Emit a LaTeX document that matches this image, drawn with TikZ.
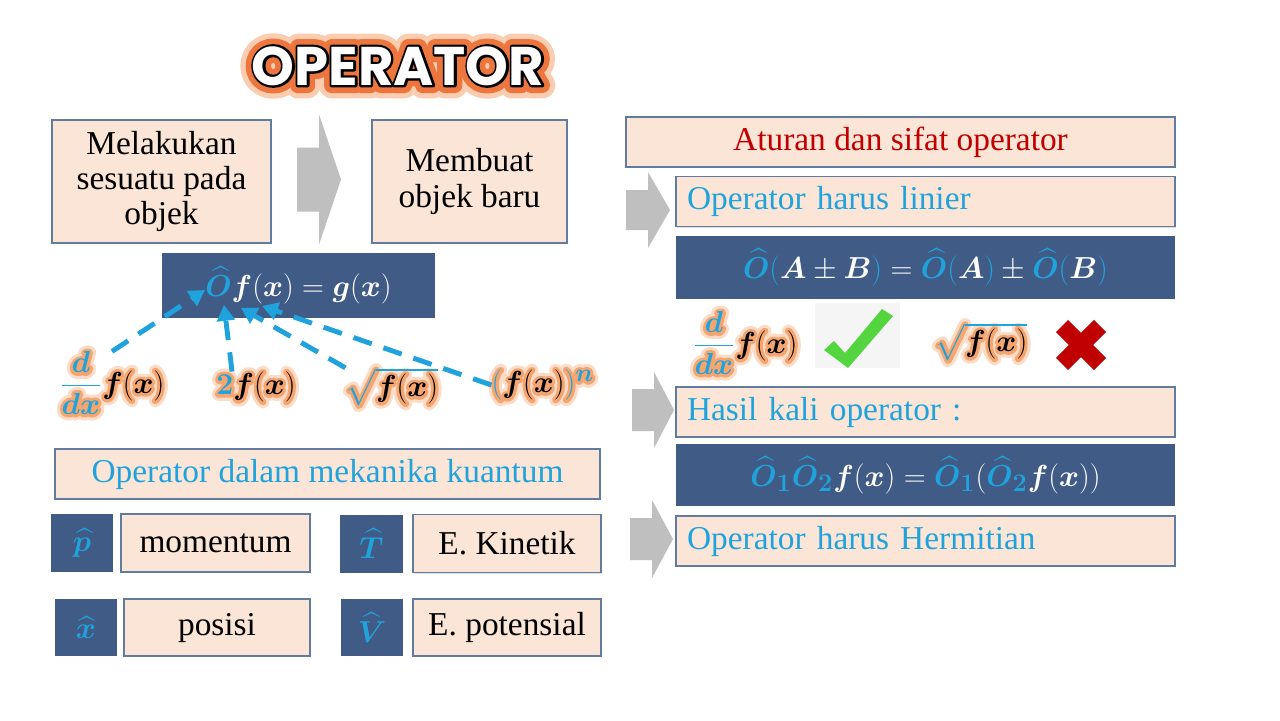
\documentclass[tikz,border=0pt]{standalone}
\usepackage{fontspec}
\setmainfont{Liberation Serif}
\newfontfamily\titlefont{Poppins}
\usepackage{amsmath}
\usepackage{bm}
\usetikzlibrary{
  positioning,
  arrows.meta,
  shadows,
  calc
}
\definecolor{peach}{RGB}{251,229,214}
\definecolor{boxline}{RGB}{98,124,160}
\definecolor{navy}{RGB}{63,91,134}
\definecolor{hatc}{RGB}{32,163,220}
\definecolor{inkc}{RGB}{0,0,0}
\definecolor{rulered}{RGB}{192,0,0}
\definecolor{arrgray}{RGB}{191,191,191}
\definecolor{glowin}{RGB}{245,165,112}
\definecolor{glowout}{RGB}{252,220,198}
\definecolor{titleglow}{RGB}{236,118,62}
\definecolor{titlehalo}{RGB}{250,204,176}
\definecolor{chkgreen}{RGB}{84,212,62}
\definecolor{xred}{RGB}{192,0,0}
% stroked copy of a text (halo), width #1, colour #2
\newcommand\halo[3]{%
  \rlap{{\colorlet{hatc}{#2}\colorlet{inkc}{#2}\color{#2}%
    \special{pdf:literal direct 2 Tr #1 w 1 j}#3\special{pdf:literal direct 0 Tr 0.4 w 0 j}}}}
\newcommand\glowexpr[1]{\halo{7}{glowout}{#1}\halo{3.5}{glowin}{#1}#1}
\newcommand\opO{\textcolor{hatc}{\widehat{\bm O}}}
\tikzset{
  peachbox/.style={
    draw=boxline, line width=0.8pt, fill=peach, inner sep=0pt,
    drop shadow={shadow xshift=0.8pt, shadow yshift=-0.8pt, opacity=0.25},
    align=center, font=\fontsize{19}{20}\selectfont
  },
  navybox/.style={
    fill=navy, inner sep=0pt, text=white,
    font=\fontsize{19}{22}\selectfont
  },
  opsq/.style={
    navybox, text=hatc, minimum width=1.24cm, minimum height=1.16cm
  },
  ruleline/.style={
    peachbox, text=hatc, align=left, text width=9.54cm,
    inner xsep=0.22cm, minimum height=1cm
  },
  exprnode/.style={
    inner sep=0pt, font=\fontsize{19}{22}\selectfont
  },
  titletext/.style={
    inner sep=0pt, font=\titlefont\bfseries\fontsize{31}{31}\selectfont
  },
  dashlink/.style={
    draw=hatc, line width=2.8pt, dash pattern=on 11pt off 7pt,
    -{Triangle[length=9pt,width=10pt]}
  },
  pics/grayarr/.style n args={4}{
    code={\fill[arrgray] (0,-#3) -- (#1,-#3) -- (#1,-#4) -- (#2,0)
      -- (#1,#4) -- (#1,#3) -- (0,#3) -- cycle;}
  }
}

\begin{document}
\begin{tikzpicture}[x=0.02cm, y=-0.02cm]
  \fill[white] (0,0) rectangle (1280,720);
  \useasboundingbox (0,0) rectangle (1280,720);

  % Title
  \node[titletext] (title) at (398,66) {%
    \halo{15}{titlehalo}{OPERATOR}\halo{9}{titleglow}{OPERATOR}\halo{2.6}{black}{OPERATOR}%
    \textcolor{white}{OPERATOR}};

  % Left: what an operator does
  \node[peachbox, minimum width=4.38cm, minimum height=2.46cm] (act) at (161.5,181.5) {Melakukan\\sesuatu pada\\objek};
  \pic at (297,179.5) {grayarr={22}{44}{32}{65}};
  \node[peachbox, minimum width=3.9cm, minimum height=2.46cm] (res) at (469.5,181.5) {Membuat\\objek baru};
  \node[navybox, minimum width=5.46cm, minimum height=1.3cm] (eq) at (298.5,285.5) {$\opO\bm f(\bm x)=\bm g(\bm x)$};

  % Examples
  \node[exprnode] (dfx) at (112,383) {\glowexpr{$\textcolor{hatc}{\dfrac{\bm d}{\bm{dx}}}\textcolor{inkc}{\bm f(\bm x)}$}};
  \node[exprnode] (twof) at (256,387) {\glowexpr{$\textcolor{hatc}{\bm 2}\textcolor{inkc}{\bm f(\bm x)}$}};
  \node[exprnode] (sqrtf) at (392,387) {\glowexpr{$\textcolor{hatc}{\sqrt{\textcolor{inkc}{\bm f(\bm x)}}}$}};
  \node[exprnode] (fxn) at (543,385) {\glowexpr{$\textcolor{hatc}{(}\textcolor{inkc}{\bm f(\bm x)}\textcolor{hatc}{)^{\bm n}}$}};

  \coordinate (tip1) at (205,290);
  \coordinate (tip2) at (224,305);
  \coordinate (tip3) at (241,308);
  \coordinate (tip4) at (262,306);
  \draw[dashlink] (dfx.north) -- (tip1);
  \draw[dashlink] ($(twof.north west)!0.2!(twof.north east)$) -- (tip2);
  \draw[dashlink] (sqrtf.north west) -- (tip3);
  \draw[dashlink] (fxn.west) -- (tip4);

  % Quantum operators
  \node[peachbox, text=hatc, minimum width=10.9cm, minimum height=1cm] (qhead) at (327.5,474) {Operator dalam mekanika kuantum};
  \node[opsq] (pop) at (82,543) {$\widehat{\bm p}$};
  \node[peachbox, minimum width=3.78cm, minimum height=1.16cm, right=0.14cm of pop] (pname) {momentum};
  \node[opsq, minimum width=1.26cm] (Top) at (371.5,543.5) {$\widehat{\bm T}$};
  \node[peachbox, minimum width=3.76cm, minimum height=1.16cm, right=0.18cm of Top] (Tname) {E. Kinetik};
  \node[opsq, minimum height=1.14cm] (xop) at (86,627.5) {$\widehat{\bm x}$};
  \node[peachbox, minimum width=3.72cm, minimum height=1.14cm, right=0.12cm of xop] (xname) {posisi};
  \node[opsq, minimum height=1.14cm] (Vop) at (372,627.5) {$\widehat{\bm V}$};
  \node[peachbox, minimum width=3.76cm, minimum height=1.14cm, right=0.18cm of Vop] (Vname) {E. potensial};

  % Right: rules
  \node[peachbox, text=rulered, minimum width=10.98cm, minimum height=1cm] (rules) at (900.5,142) {Aturan dan sifat operator};
  \pic at (626,210) {grayarr={22}{44}{20}{38}};
  \node[ruleline] (lin) at (925.5,201.5) {Operator harus linier};
  \node[navybox, minimum width=9.98cm, minimum height=1.26cm, below=0.16cm of lin] (lineq) {$\opO\textcolor{hatc}{(}\bm A\pm\bm B\textcolor{hatc}{)}=\opO\textcolor{hatc}{(}\bm A\textcolor{hatc}{)}\pm\opO\textcolor{hatc}{(}\bm B\textcolor{hatc}{)}$};

  \node[exprnode] (dfxb) at (745,343) {\glowexpr{$\textcolor{hatc}{\dfrac{\bm d}{\bm{dx}}}\textcolor{inkc}{\bm f(\bm x)}$}};
  \node[fill=black!4, minimum width=1.7cm, minimum height=1.3cm] (chkbg) at (857.5,335.5) {};
  \fill[chkgreen] (824,350) -- (834,341) -- (845,353) -- (882,309) -- (893,316) -- (848,368) -- cycle;
  \node[exprnode] (sqrtb) at (981,342) {\glowexpr{$\textcolor{hatc}{\sqrt{\textcolor{inkc}{\bm f(\bm x)}}}$}};
  \draw[xred, line width=9.7pt] (1062,326) -- (1100,364) (1100,326) -- (1062,364);

  \pic at (632,410) {grayarr={22}{42}{21}{38}};
  \node[ruleline] (prod) at (925.5,412) {Hasil kali operator :};
  \node[navybox, minimum width=9.98cm, minimum height=1.24cm, below=0.12cm of prod] (prodeq) {$\opO_{\textcolor{hatc}{\bm 1}}\opO_{\textcolor{hatc}{\bm 2}}\bm f(\bm x)=\opO_{\textcolor{hatc}{\bm 1}}(\opO_{\textcolor{hatc}{\bm 2}}\bm f(\bm x))$};

  \pic at (630,539) {grayarr={22}{43}{21}{39}};
  \node[ruleline] (herm) at (925.5,541) {Operator harus Hermitian};

\end{tikzpicture}
\end{document}
